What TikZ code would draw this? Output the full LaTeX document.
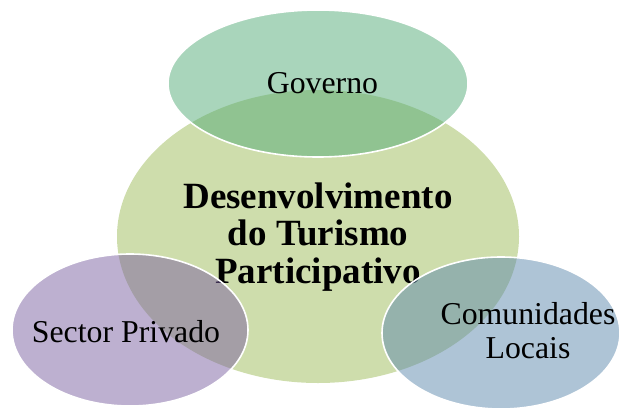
\documentclass[tikz,border=0pt]{standalone}
\usepackage{fontspec}
\setmainfont{Liberation Serif}
\definecolor{centrecol}{RGB}{206,221,172}
\definecolor{govcol}{RGB}{83,171,119}
\definecolor{privcol}{RGB}{123,97,161}
\definecolor{comcol}{RGB}{93,137,173}
\begin{document}
\begin{tikzpicture}[x=1pt,y=-1pt,
  outerell/.style={draw=white, line width=1.6pt, fill opacity=0.5, draw opacity=1},
  lbl/.style={font=\fontsize{31.8}{34}\selectfont, align=center, inner sep=0pt, text=black},
  centrelbl/.style={font=\fontsize{37}{37.5}\selectfont\bfseries, align=center, inner sep=0pt, text=black}]
\useasboundingbox (0,0) rectangle (619,408);
\clip (0,0) rectangle (619,408);
% central ellipse
\fill[centrecol] (318,236.5) ellipse [x radius=201, y radius=146.5];
\node[centrelbl, anchor=base] (centre) at (318,283) {Desenvolvimento\\do Turismo\\Participativo};
% outer ellipses
\path[outerell, fill=govcol] (318,83.5) ellipse [x radius=150, y radius=73.5];
\path[outerell, fill=privcol] (130,330) ellipse [x radius=118, y radius=76];
\path[outerell, fill=comcol] (501,333) ellipse [x radius=119, y radius=76];
% labels
\node[lbl, anchor=base] (gov) at (322.5,93) {Governo};
\node[lbl, anchor=base] (priv) at (126,342) {Sector Privado};
\node[lbl, anchor=base] (com) at (528,358) {Comunidades\\Locais};
\end{tikzpicture}
\end{document}
